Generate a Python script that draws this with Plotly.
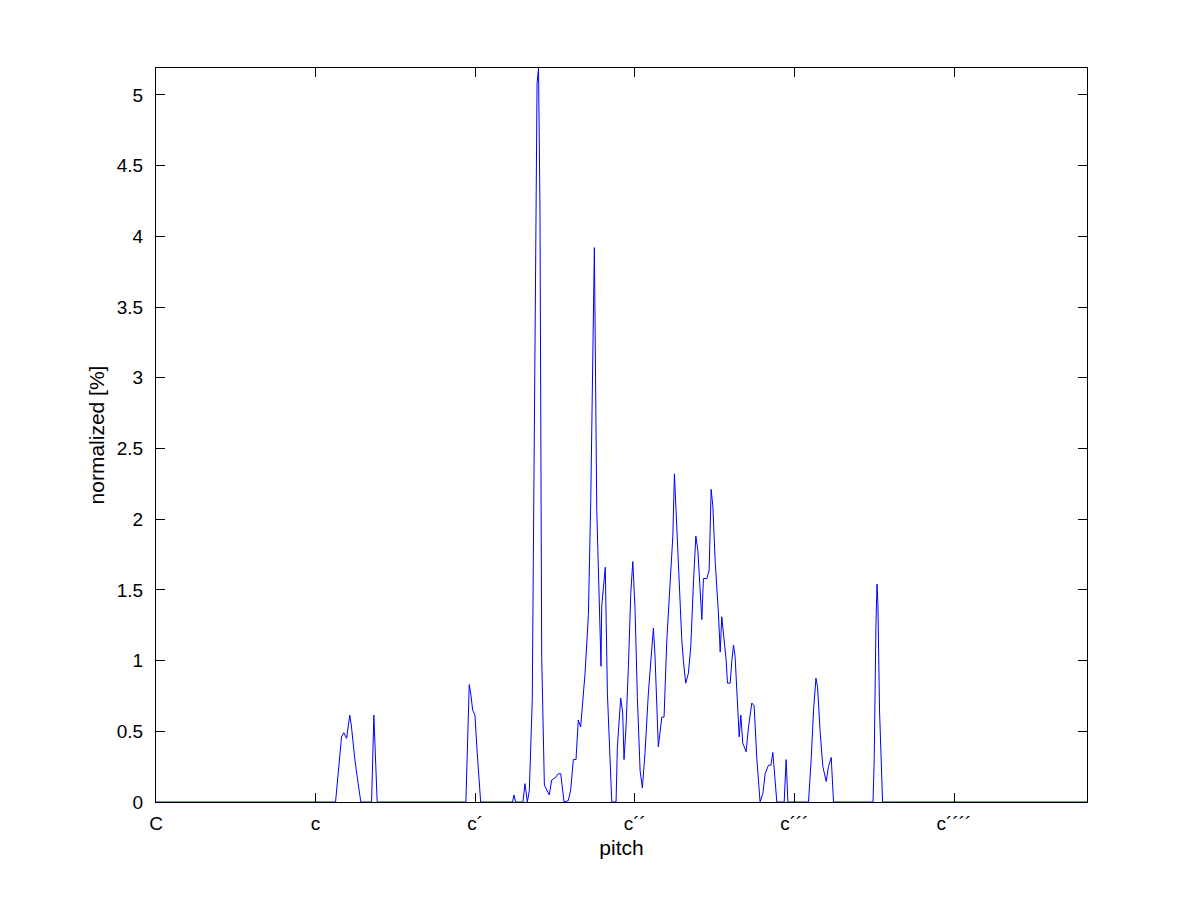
import plotly.graph_objects as go

# pitch position in semitones above C (C=0, c=12, c'=24, ...)
pitch = [0.0,
         13.50, 13.95, 14.12, 14.33, 14.57, 14.70, 14.95, 15.20, 15.40,
         16.21, 16.38, 16.63,
         23.30, 23.55, 23.66, 23.81, 23.98, 24.15, 24.41,
         26.80, 26.92, 27.03,
         27.59, 27.74, 27.92, 28.07, 28.29, 28.37, 28.55, 28.65, 28.76, 28.87,
         29.00, 29.20, 29.57, 29.75, 30.00, 30.25, 30.43, 30.68, 31.00, 31.18,
         31.38, 31.58, 31.75, 31.93, 32.26, 32.51, 32.69, 32.88, 32.96, 33.14,
         33.26, 33.39, 33.46, 33.51, 33.69, 33.78, 33.94, 34.14, 34.27, 34.59,
         34.69, 34.94, 35.09, 35.19, 35.34, 35.52, 35.70, 35.85, 36.02, 36.19,
         36.40, 36.57, 36.77, 37.02, 37.28, 37.40, 37.52, 37.77, 38.03, 38.20,
         38.41, 38.65, 38.86, 38.98, 39.11, 39.28, 39.53, 39.65, 39.83, 40.03,
         40.21, 40.41, 40.59, 40.74, 40.91, 41.04, 41.16, 41.42, 41.59, 41.74,
         41.87, 42.04, 42.29, 42.42, 42.54, 42.66, 42.87, 42.97, 43.17, 43.30,
         43.42, 43.54, 43.72, 43.85, 43.97, 44.12, 44.37, 44.55, 44.80, 44.97,
         45.18, 45.42, 45.63, 45.80, 46.05, 46.23, 46.38, 46.48, 46.68,
         47.23, 47.38, 47.51,
         49.06, 49.26, 49.44, 49.62, 49.74, 49.94, 50.14, 50.39, 50.56, 50.77, 50.94,
         53.91, 54.00, 54.13, 54.21, 54.28, 54.40, 54.63,
         70.0]

normalized = [0.0,
              0.0, 0.46, 0.49, 0.45, 0.615, 0.53, 0.30, 0.13, 0.0,
              0.0, 0.615, 0.0,
              0.0, 0.83, 0.77, 0.65, 0.615, 0.35, 0.0,
              0.0, 0.05, 0.0,
              0.0, 0.13, 0.0, 0.08, 0.72, 1.7, 4.38, 5.08, 5.19, 4.2,
              1.03, 0.12, 0.05, 0.155, 0.17, 0.2, 0.2, 0.0, 0.01, 0.085,
              0.3, 0.3, 0.58, 0.53, 0.91, 1.32, 2.14, 3.68, 3.92, 2.07,
              1.58, 1.1, 0.96, 1.38, 1.59, 1.66, 0.77, 0.25, 0.0, 0.0,
              0.39, 0.735, 0.63, 0.3, 0.53, 0.96, 1.48, 1.7, 1.36, 0.745,
              0.22, 0.1, 0.35, 0.77, 1.1, 1.23, 1.03, 0.39, 0.6, 0.6,
              1.15, 1.57, 1.88, 2.32, 2.04, 1.62, 1.15, 1.0, 0.84, 0.91,
              1.1, 1.55, 1.88, 1.78, 1.52, 1.29, 1.58, 1.58, 1.64, 2.21,
              2.09, 1.71, 1.33, 1.06, 1.31, 1.19, 1.0, 0.84, 0.84, 1.0,
              1.11, 1.03, 0.72, 0.46, 0.615, 0.415, 0.355, 0.53, 0.70, 0.68,
              0.3, 0.0, 0.06, 0.2, 0.26, 0.26, 0.35, 0.25, 0.0,
              0.0, 0.3, 0.0,
              0.0, 0.3, 0.65, 0.875, 0.815, 0.49, 0.25, 0.145, 0.25, 0.315, 0.0,
              0.0, 0.3, 1.24, 1.54, 1.405, 0.65, 0.0,
              0.0]

tick_vals = [0, 12, 24, 36, 48, 60]
tick_text = ["C", "c", "c\u00b4", "c\u00b4\u00b4", "c\u00b4\u00b4\u00b4", "c\u00b4\u00b4\u00b4\u00b4"]

tick_font = dict(family="Liberation Sans, Arial, sans-serif", size=19, color="black")
label_font = dict(family="Liberation Sans, Arial, sans-serif", size=21, color="black")

fig = go.Figure()
fig.add_trace(go.Scatter(x=pitch, y=normalized, mode="lines",
                         line=dict(color="#0000ff", width=1), showlegend=False))

axis_common = dict(showline=True, linecolor="black", linewidth=1, mirror="ticks",
                   ticks="inside", ticklen=9, tickcolor="black", tickwidth=1,
                   showgrid=False, zeroline=False, tickfont=tick_font)

fig.update_layout(
    width=1201, height=901,
    margin=dict(l=148, r=122, t=60, b=107, autoexpand=False),
    paper_bgcolor="white", plot_bgcolor="white",
    font=tick_font,
    xaxis=dict(range=[0, 70], tickvals=tick_vals, ticktext=tick_text,
               title=dict(text="pitch", font=label_font, standoff=7), automargin=False,
               ticklabelstandoff=4, **axis_common),
    yaxis=dict(range=[0, 5.19], dtick=0.5, tick0=0,
               title=dict(text="normalized [%]", font=label_font, standoff=6), automargin=False,
               ticklabelstandoff=8, **axis_common),
)

fig.write_html("out.html")
